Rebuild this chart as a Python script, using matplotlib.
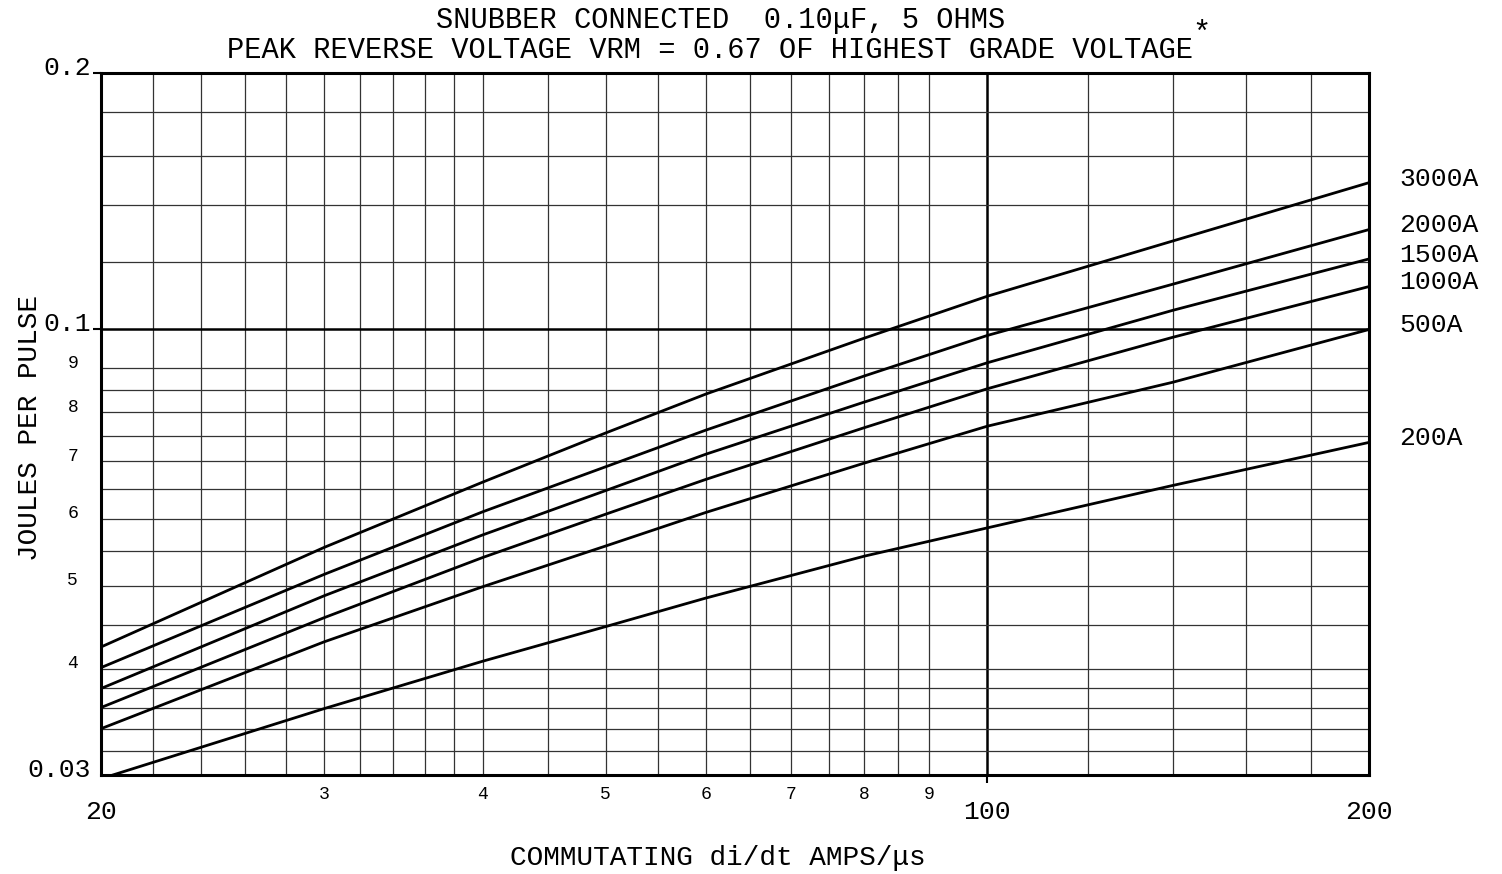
import matplotlib
matplotlib.use("Agg")
import matplotlib.pyplot as plt
import matplotlib.transforms as mtransforms

# commutating di/dt (A/us) where the curves were read
didt = [20, 30, 40, 50, 60, 80, 100, 140, 200]

# joules per pulse for each peak current
curves = {
    "3000A": [0.0424, 0.0555, 0.0662, 0.0756, 0.0840, 0.0977, 0.1094, 0.1270, 0.1487],
    "2000A": [0.0401, 0.0516, 0.0611, 0.0690, 0.0762, 0.0882, 0.0984, 0.1130, 0.1310],
    "1500A": [0.0379, 0.0487, 0.0574, 0.0647, 0.0714, 0.0822, 0.0914, 0.1053, 0.1210],
    "1000A": [0.0360, 0.0459, 0.0540, 0.0607, 0.0667, 0.0767, 0.0852, 0.0979, 0.1123],
    "500A":  [0.0340, 0.0430, 0.0499, 0.0557, 0.0610, 0.0697, 0.0770, 0.0867, 0.1000],
    "200A":  [0.0297, 0.0359, 0.0408, 0.0448, 0.0484, 0.0542, 0.0585, 0.0656, 0.0737],
}

# grid lines of the log paper
x_grid = [22, 24, 26, 28, 30, 32, 34, 36, 38, 40, 45, 50, 55, 60, 65, 70, 75,
          80, 85, 90, 120, 140, 160, 180]
y_grid = [0.032, 0.034, 0.036, 0.038, 0.04, 0.045, 0.05, 0.055, 0.06, 0.065,
          0.07, 0.075, 0.08, 0.085, 0.09, 0.12, 0.14, 0.16, 0.18]

# tick labels
x_small = [30, 40, 50, 60, 70, 80, 90]
x_small_lbl = ["3", "4", "5", "6", "7", "8", "9"]
x_big = [20, 100, 200]
x_big_lbl = ["20", "100", "200"]
y_small = [0.04, 0.05, 0.06, 0.07, 0.08, 0.09]
y_small_lbl = ["4", "5", "6", "7", "8", "9"]
y_big = [0.03, 0.1, 0.2]
y_big_lbl = ["0.03", "0.1", "0.2"]

FONT = "Liberation Mono"
W, H = 1502, 874

fig = plt.figure(figsize=(W / 100, H / 100), dpi=100)
ax = fig.add_axes([101 / W, 1 - 775 / H, (1369 - 101) / W, (775 - 73) / H])
ax.set_xscale("log")
ax.set_yscale("log")
ax.set_xlim(20, 200)
ax.set_ylim(0.03, 0.2)

ax.set_xticks([100])
ax.set_yticks([0.1, 0.2])
ax.set_xticks(x_grid, minor=True)
ax.set_yticks(y_grid, minor=True)
ax.tick_params(which="minor", length=0, labelbottom=False, labelleft=False)
ax.tick_params(which="major", length=6, width=1.5, direction="out",
               labelbottom=False, labelleft=False)
ax.grid(which="minor", color="0.2", lw=0.9)
ax.grid(which="major", color="black", lw=1.8)
for sp in ax.spines.values():
    sp.set_linewidth(2.2)

for name, vals in curves.items():
    ax.plot(didt, vals, color="black", lw=2.0)
    ax.annotate(name, xy=(200, vals[-1]), xytext=(22, 3),
                textcoords="offset points", ha="left", va="center",
                fontsize=19, family=FONT, annotation_clip=False)

# tick labels written like on the original paper
xt = mtransforms.blended_transform_factory(ax.transData, ax.transAxes)
for v, s in zip(x_small, x_small_lbl):
    ax.text(v, -0.015, s, transform=xt, ha="center", va="top",
            fontsize=13, family=FONT)
for v, s in zip(x_big, x_big_lbl):
    ax.text(v, -0.035, s, transform=xt, ha="center", va="top",
            fontsize=19, family=FONT)
up = mtransforms.ScaledTranslation(0, 5 / 100, fig.dpi_scale_trans)
yt = mtransforms.blended_transform_factory(ax.transAxes, ax.transData) + up
for v, s in zip(y_small, y_small_lbl):
    ax.text(-0.018, v, s, transform=yt, ha="right", va="center",
            fontsize=13, family=FONT)
for v, s in zip(y_big, y_big_lbl):
    ax.text(-0.008, v, s, transform=yt, ha="right", va="center",
            fontsize=19, family=FONT)

fig.text(721 / W, 1 - 20 / H, "SNUBBER CONNECTED  0.10\u03bcF, 5 OHMS",
         ha="center", va="center", fontsize=20.7, family=FONT)
fig.text(710 / W, 1 - 50 / H,
         "PEAK REVERSE VOLTAGE VRM = 0.67 OF HIGHEST GRADE VOLTAGE",
         ha="center", va="center", fontsize=20.7, family=FONT)
fig.text(1201 / W, 1 - 34 / H, "*", ha="center", va="center",
         fontsize=22, family=FONT)
fig.text(718 / W, 1 - 858 / H, "COMMUTATING di/dt AMPS/\u03bcs",
         ha="center", va="center", fontsize=20, family=FONT)
fig.text(30 / W, 1 - 428 / H, "JOULES PER PULSE", rotation=90,
         ha="center", va="center", fontsize=20, family=FONT)

fig.savefig("out.png", dpi=100, facecolor="white")
